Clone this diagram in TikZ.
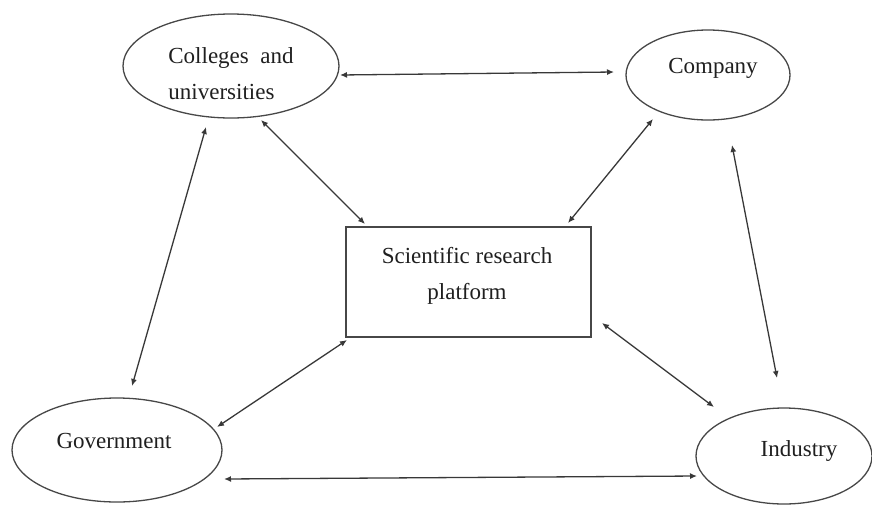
\documentclass[tikz,border=0pt]{standalone}
\usepackage{fontspec}
\setmainfont{Liberation Serif}
\usetikzlibrary{shapes.geometric,arrows.meta}
\begin{document}
\begin{tikzpicture}[x=1pt,y=-1pt,
  actor/.style={ellipse,draw=black!72,line width=1.3pt,inner sep=0pt},
  platbox/.style={rectangle,draw=black!72,line width=1.3pt,inner sep=0pt},
  lbl/.style={font=\fontsize{23}{36}\selectfont,text=black!88,inner sep=0pt},
  link/.style={draw=black!78,line width=1.3pt,
    {Latex[length=7pt,width=6pt]}-{Latex[length=7pt,width=6pt]}}]
\useasboundingbox (0,0) rectangle (872,504);

% the five parties
\node[actor,minimum width=216pt,minimum height=104pt] (coll) at (231,66) {};
\node[actor,minimum width=164pt,minimum height=90pt] (comp) at (708,75) {};
\node[platbox,minimum width=245pt,minimum height=110pt] (box) at (468.5,282) {};
\node[actor,minimum width=210pt,minimum height=104pt] (gov) at (117,450) {};
\node[actor,minimum width=176pt,minimum height=96pt] (ind) at (784,456) {};

% their labels
\node[lbl,align=left] (colltxt) at (231,74) {Colleges\ \ and\\universities};
\node[lbl,anchor=base] (comptxt) at (713,73) {Company};
\node[lbl,align=center] (boxtxt) at (467,276) {Scientific research\\platform};
\node[lbl,anchor=base] (govtxt) at (114,448) {Government};
\node[lbl,anchor=base] (indtxt) at (799,456) {Industry};

% two-way links
\draw[link] ([shift={(109,9)}]coll.center) -- ([shift={(-94,-3)}]comp.center);
\draw[link] ([shift={(30,54)}]coll.center) -- ([shift={(-103.5,-58)}]box.center);
\draw[link] ([shift={(-55,44)}]comp.center) -- ([shift={(99.5,-59)}]box.center);
\draw[link] ([shift={(-25,61)}]coll.center) -- ([shift={(15,-64)}]gov.center);
\draw[link] ([shift={(24,70)}]comp.center) -- ([shift={(-7,-78)}]ind.center);
\draw[link] ([shift={(-121.5,58)}]box.center) -- ([shift={(100,-23)}]gov.center);
\draw[link] ([shift={(133.5,41)}]box.center) -- ([shift={(-70,-49)}]ind.center);
\draw[link] ([shift={(107,29)}]gov.center) -- ([shift={(-87,20)}]ind.center);
\end{tikzpicture}
\end{document}
